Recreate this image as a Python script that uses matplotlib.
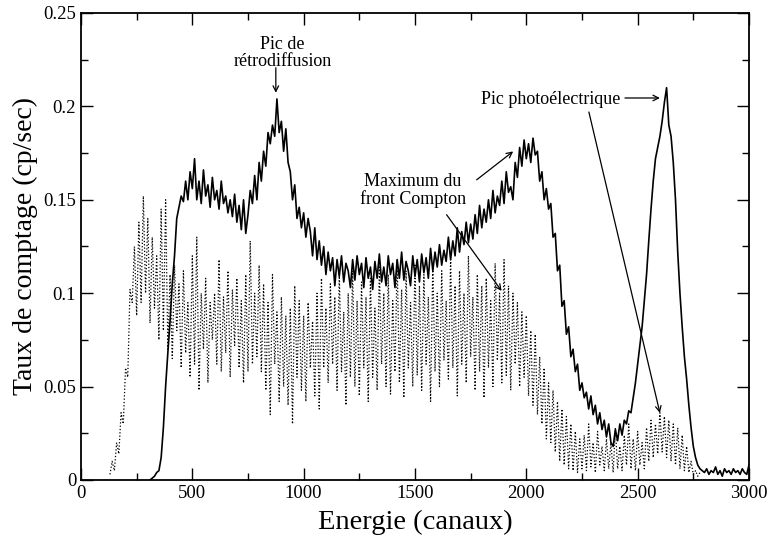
import matplotlib
matplotlib.use('Agg')
import matplotlib.pyplot as plt
import numpy as np

plt.rcParams['font.family'] = ['Liberation Serif', 'DejaVu Serif']

# Spectra, every 10 channels (values in 1e-3 cp/sec)
solid_start = 310
solid_counts = [
    0, 1, 2, 4, 5, 12, 28, 50, 68, 85,
    105, 120, 140, 146, 152, 149, 160, 150, 165, 156,
    172, 150, 160, 148, 166, 152, 158, 146, 162, 150,
    155, 145, 160, 148, 152, 143, 150, 141, 153, 138,
    147, 134, 150, 132, 142, 155, 148, 163, 150, 170,
    160, 176, 168, 186, 180, 190, 184, 204, 186, 192,
    176, 188, 170, 165, 150, 158, 140, 146, 135, 143,
    130, 140, 133, 120, 135, 118, 128, 115, 125, 110,
    122, 112, 119, 104, 118, 109, 120, 106, 116, 112,
    103, 118, 107, 120, 110, 116, 103, 119, 108, 114,
    102, 117, 108, 121, 106, 114, 104, 120, 110, 116,
    103, 118, 108, 122, 107, 117, 112, 104, 120, 109,
    118, 106, 121, 111, 119, 108, 124, 112, 122, 114,
    126, 115, 123, 117, 130, 118, 128, 120, 135, 122,
    133, 126, 138, 127, 137, 129, 142, 132, 147, 135,
    145, 138, 150, 140, 155, 143, 152, 147, 160, 148,
    165, 154, 157, 150, 170, 162, 178, 168, 182, 172,
    180, 170, 183, 174, 176, 160, 165, 150, 156, 145,
    148, 130, 132, 112, 115, 93, 96, 78, 82, 66,
    70, 58, 62, 48, 52, 44, 47, 38, 45, 35,
    40, 30, 36, 27, 32, 23, 30, 20, 18, 27,
    21, 30, 24, 32, 30, 37, 36, 44, 52, 62,
    72, 82, 96, 110, 128, 145, 160, 172, 178, 184,
    192, 202, 210, 190, 184, 170, 150, 122, 100, 82,
    66, 54, 40, 28, 18, 12, 8, 6, 5, 4,
    6, 3, 5, 4, 7, 3, 5, 2, 6, 4,
    5, 3, 6, 4, 5, 3, 6, 4, 3, 8,
]

dotted_start = 130
dotted_counts = [
    3, 10, 5, 20, 14, 36, 30, 60, 55, 102,
    95, 125, 88, 138, 95, 152, 100, 140, 84, 130,
    92, 120, 75, 145, 80, 150, 70, 110, 65, 115,
    80, 105, 60, 112, 68, 95, 55, 120, 62, 130,
    48, 100, 70, 108, 52, 95, 75, 100, 62, 118,
    58, 98, 68, 112, 55, 102, 72, 108, 60, 96,
    52, 110, 58, 128, 62, 100, 66, 115, 58, 105,
    48, 95, 35, 110, 62, 90, 42, 98, 50, 88,
    40, 92, 30, 104, 55, 96, 48, 88, 42, 95,
    60, 85, 45, 100, 38, 108, 60, 92, 52, 105,
    62, 98, 48, 110, 58, 90, 40, 100, 55, 112,
    50, 96, 45, 106, 60, 98, 42, 108, 55, 92,
    48, 114, 62, 100, 50, 110, 46, 96, 58, 118,
    52, 102, 44, 112, 60, 95, 50, 115, 56, 104,
    48, 110, 62, 98, 42, 116, 58, 100, 50, 112,
    64, 96, 54, 118, 60, 104, 45, 112, 62, 100,
    52, 120, 66, 98, 48, 110, 58, 104, 44, 108,
    60, 96, 50, 116, 64, 100, 52, 118, 56, 104,
    48, 100, 62, 95, 50, 90, 55, 88, 45, 80,
    40, 78, 35, 66, 30, 60, 22, 52, 20, 48,
    15, 42, 10, 38, 8, 34, 6, 30, 5, 26,
    4, 22, 6, 24, 5, 30, 7, 20, 4, 26,
    8, 18, 5, 22, 6, 20, 4, 28, 6, 18,
    5, 24, 8, 30, 6, 22, 5, 26, 8, 20,
    6, 28, 10, 32, 12, 30, 14, 36, 15, 34,
    12, 32, 10, 30, 8, 28, 6, 24, 5, 18,
    4, 10, 3, 5, 2, 4,
]

x_solid = solid_start + 10 * np.arange(len(solid_counts))
y_solid = np.array(solid_counts) / 1000.0
x_dotted = dotted_start + 10 * np.arange(len(dotted_counts))
y_dotted = np.array(dotted_counts) / 1000.0

fig = plt.figure(figsize=(7.67, 5.46), dpi=100)
ax = fig.add_axes([0.1056, 0.1209, 0.8709, 0.8553])

ax.plot(x_dotted, y_dotted, color='black', linestyle=':', linewidth=0.9)
ax.plot(x_solid, y_solid, color='black', linestyle='-', linewidth=1.2)

ax.set_xlim(0, 3000)
ax.set_ylim(0, 0.25)
ax.set_xticks([0, 500, 1000, 1500, 2000, 2500, 3000])
ax.set_xticks(np.arange(250, 3000, 500), minor=True)
ax.set_yticks([0, 0.05, 0.1, 0.15, 0.2, 0.25])
ax.set_yticklabels(['0', '0.05', '0.1', '0.15', '0.2', '0.25'])
ax.set_yticks(np.arange(0.025, 0.25, 0.05), minor=True)
ax.tick_params(which='both', direction='in', top=True, right=True, labelsize=13.5)
ax.tick_params(which='major', length=8.5, width=1)
ax.tick_params(which='minor', length=5, width=1)
for s in ax.spines.values():
    s.set_linewidth(1.3)

ax.set_xlabel('Energie (canaux)', fontsize=20.5, labelpad=6)
ax.set_ylabel('Taux de comptage (cp/sec)', fontsize=20, labelpad=4)

arrow = dict(arrowstyle='->', color='black', lw=0.9, shrinkA=0, shrinkB=0)
ax.text(905, 0.2285, 'Pic de\nrétrodiffusion', ha='center', va='center', fontsize=13, linespacing=1.0)
ax.annotate('', xy=(875, 0.2073), xytext=(875, 0.2207), arrowprops=arrow)

ax.text(1491, 0.155, 'Maximum du\nfront Compton', ha='center', va='center', fontsize=13, linespacing=1.0)
ax.annotate('', xy=(1941, 0.1759), xytext=(1777, 0.1607), arrowprops=arrow)
ax.annotate('', xy=(1889, 0.1012), xytext=(1642, 0.142), arrowprops=arrow)

ax.text(2110, 0.2035, 'Pic photoélectrique', ha='center', va='center', fontsize=13)
ax.annotate('', xy=(2600, 0.2045), xytext=(2443, 0.2045), arrowprops=arrow)
ax.annotate('', xy=(2600, 0.0359), xytext=(2281, 0.197), arrowprops=arrow)

fig.savefig('out.png', dpi=100)
